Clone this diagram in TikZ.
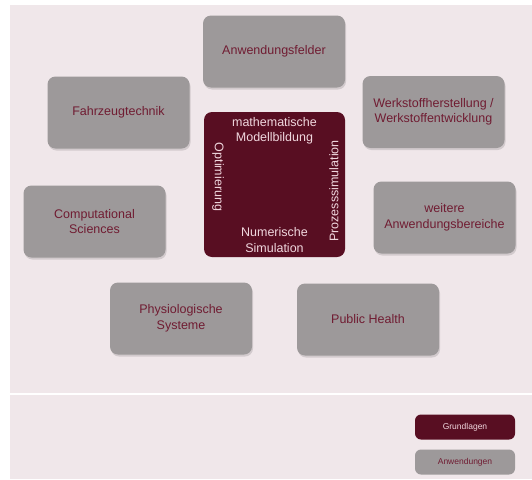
\documentclass[tikz,border=0pt]{standalone}
\usepackage{fontspec}
\setmainfont{Liberation Sans}
\usetikzlibrary{shadows}
\definecolor{page_bg}{RGB}{240,231,234}
\definecolor{box_gray}{RGB}{157,153,154}
\definecolor{box_dark}{RGB}{88,14,34}
\definecolor{text_red}{RGB}{112,28,50}
\definecolor{text_light}{RGB}{240,215,222}

\begin{document}
\begin{tikzpicture}[x=1pt,y=-1pt,font=\fontsize{12.5}{15.5}\selectfont]
    \tikzstyle{area}=[rounded corners=8pt, align=center, inner sep=2pt]
    \tikzstyle{app}=[style=area, fill=box_gray, text=text_red, minimum width=142pt, minimum height=72pt,
                     drop shadow={shadow xshift=1pt, shadow yshift=-2pt, fill=black, opacity=0.12}]
    \tikzstyle{core}=[style=area, fill=box_dark, minimum width=141pt, minimum height=145pt]
    \tikzstyle{corelabel}=[text=text_light, align=center, inner sep=0pt]
    \tikzstyle{key}=[rounded corners=6pt, minimum width=100pt, minimum height=25pt, font=\fontsize{8.5}{10}\selectfont]

    \useasboundingbox (0,0) rectangle (532,479);
    \fill[page_bg] (10,5) rectangle (532,479);
    \draw[white, line width=2pt] (10,394) -- (532,394);

    \node[app]  (felder)  at (274,51.5)  {Anwendungsfelder};
    \node[app]  (fahrzeug) at (118.5,112.5) {Fahrzeugtechnik};
    \node[app]  (werkstoff) at (433.5,112) {Werkstoffherstellung /\\ Werkstoffentwicklung};
    \node[app]  (comp)    at (94.5,221.5) {Computational\\ Sciences};
    \node[app]  (weitere) at (444.5,217.5) {weitere\\ Anwendungsbereiche};
    \node[app]  (physio)  at (181,318.5) {Physiologische\\ Systeme};
    \node[app]  (health)  at (368,319.5) {Public Health};

    \node[core] (kern)    at (274.5,184.5) {};
    \node[corelabel] (modell) at (274.5,131) {mathematische\\ Modellbildung};
    \node[corelabel] (numerik) at (274.5,240) {Numerische\\ Simulation};
    \node[corelabel, rotate=-90] (optim) at (218,177) {Optimierung};
    \node[corelabel, rotate=90]  (prozess) at (334,191) {Prozesssimulation};

    \node[key, fill=box_dark, text=text_light] (grundlagen) at (465,427) {Grundlagen};
    \node[key, fill=box_gray, text=text_red]  (anwendungen) at (465,462) {Anwendungen};
  \end{tikzpicture}
\end{document}
